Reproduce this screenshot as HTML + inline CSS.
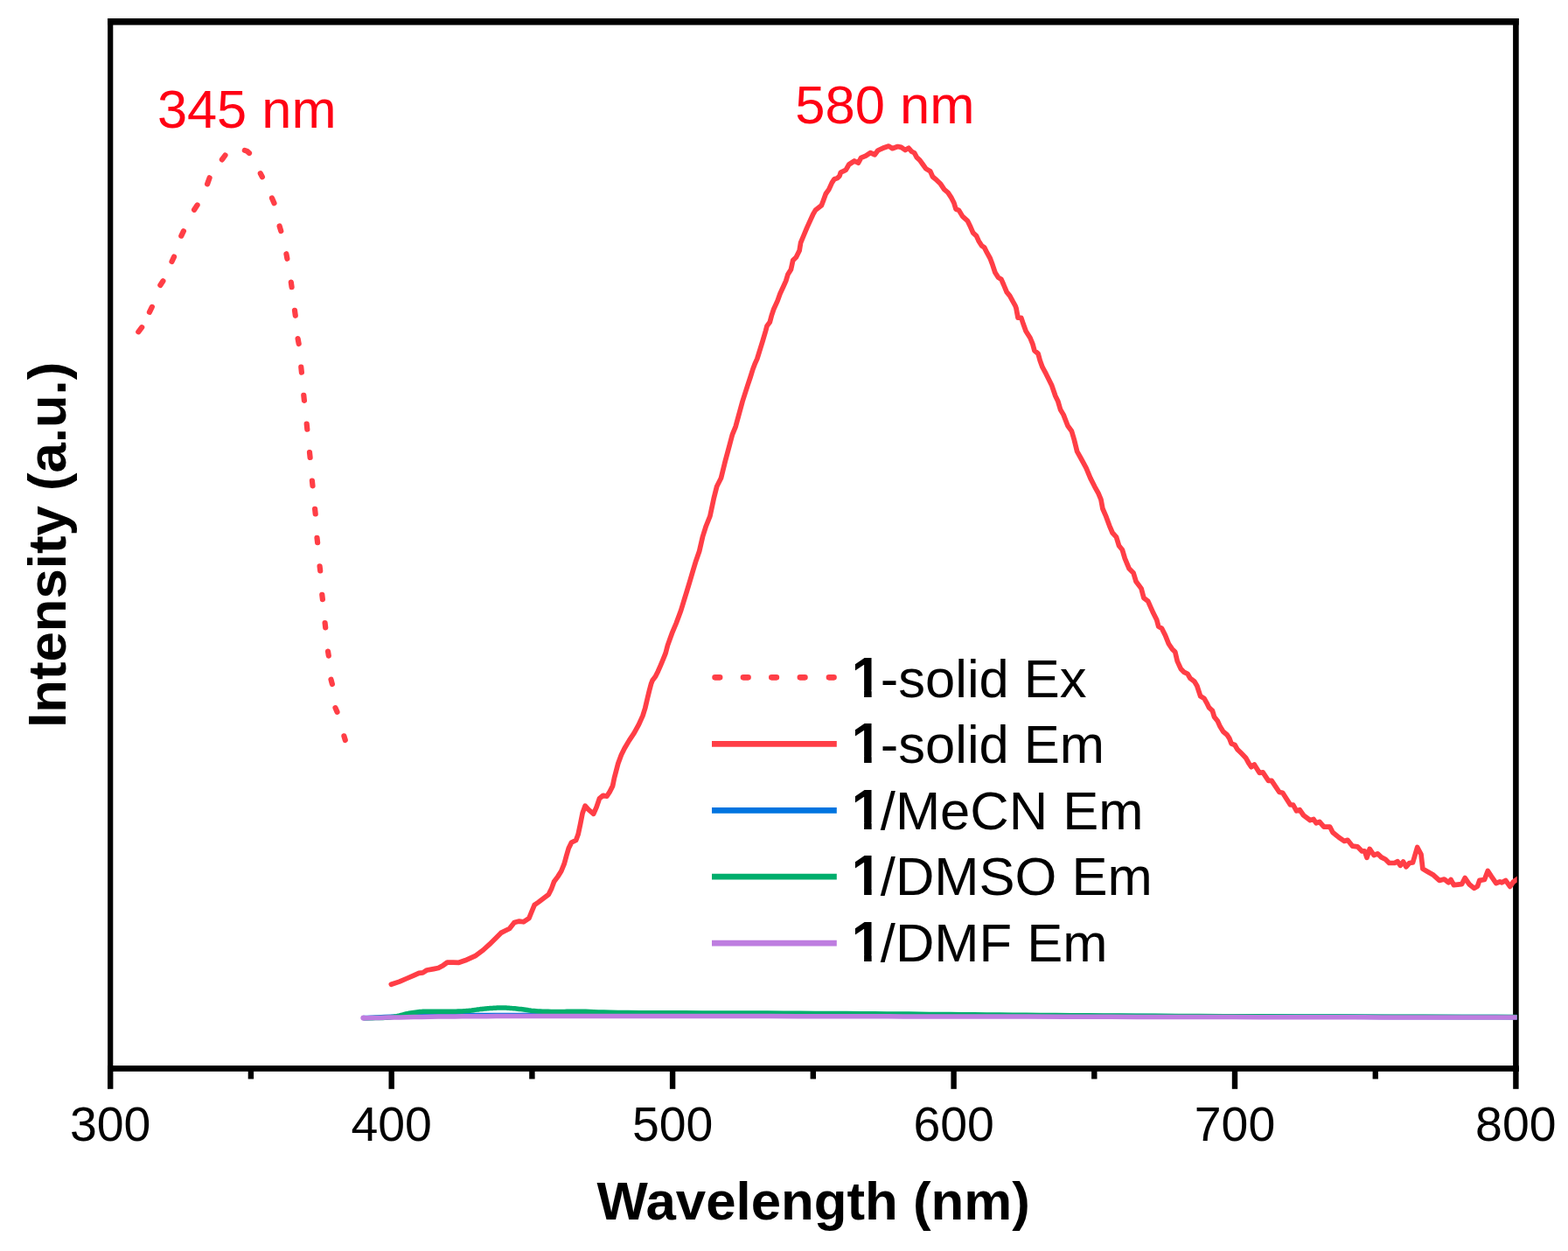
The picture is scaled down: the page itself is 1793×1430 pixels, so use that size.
<!DOCTYPE html>
<html><head><meta charset="utf-8"><title>Spectra</title>
<style>html,body{margin:0;padding:0;background:#fff;}body{width:1793px;height:1430px;overflow:hidden;}svg{display:block;}</style>
</head><body>
<svg width="1793" height="1430" viewBox="0 0 1793 1430">
<rect width="100%" height="100%" fill="#fff"/>
<g fill="#000">
<rect x="123.1" y="21.0" width="6.2" height="1203.8"/>
<rect x="1730.1" y="21.0" width="6.6" height="1203.8"/>
<rect x="123.1" y="21.0" width="1613.6" height="7.6"/>
<rect x="123.1" y="1218.0" width="1613.6" height="6.8"/>
<rect x="123.0" y="1220" width="6.4" height="24.8"/>
<rect x="283.7" y="1220" width="6.4" height="13.4"/>
<rect x="444.5" y="1220" width="6.4" height="24.8"/>
<rect x="605.2" y="1220" width="6.4" height="13.4"/>
<rect x="765.9" y="1220" width="6.4" height="24.8"/>
<rect x="926.6" y="1220" width="6.4" height="13.4"/>
<rect x="1087.4" y="1220" width="6.4" height="24.8"/>
<rect x="1248.1" y="1220" width="6.4" height="13.4"/>
<rect x="1408.8" y="1220" width="6.4" height="24.8"/>
<rect x="1569.6" y="1220" width="6.4" height="13.4"/>
<rect x="1730.2" y="1220" width="6.4" height="24.8"/>
</g>
<text x="126.2" y="1304.0" font-family="Liberation Sans, Arial, sans-serif" font-size="55.4" text-anchor="middle" fill="#000">300</text>
<text x="447.7" y="1304.0" font-family="Liberation Sans, Arial, sans-serif" font-size="55.4" text-anchor="middle" fill="#000">400</text>
<text x="769.1" y="1304.0" font-family="Liberation Sans, Arial, sans-serif" font-size="55.4" text-anchor="middle" fill="#000">500</text>
<text x="1090.6" y="1304.0" font-family="Liberation Sans, Arial, sans-serif" font-size="55.4" text-anchor="middle" fill="#000">600</text>
<text x="1412.0" y="1304.0" font-family="Liberation Sans, Arial, sans-serif" font-size="55.4" text-anchor="middle" fill="#000">700</text>
<text x="1733.3" y="1304.0" font-family="Liberation Sans, Arial, sans-serif" font-size="55.4" text-anchor="middle" fill="#000">800</text>
<text x="682.5" y="1393.8" font-family="Liberation Sans, Arial, sans-serif" font-weight="bold" font-size="61.78" fill="#000">Wavelength (nm)</text>
<text transform="translate(75.3 831.8) rotate(-90)" x="0" y="0" font-family="Liberation Sans, Arial, sans-serif" font-weight="bold" font-size="61.68" fill="#000">Intensity (a.u.)</text>
<g font-family="Liberation Sans, Arial, sans-serif" fill="#FF0014">
<text x="179.9" y="145.8" font-size="61.35">345 nm</text>
<text x="909.3" y="140.8" font-size="61.54">580 nm</text>
</g>
<defs><clipPath id="pc"><rect x="0" y="0" width="1734.7" height="1430"/></clipPath></defs>
<g fill="none" stroke-linejoin="round" clip-path="url(#pc)">
<path d="M158.3 379.3 L162.2 374.2 M170.9 356.8 L173.8 350.9 M183.3 325.9 L186.4 321.3 M196.5 299.0 L199.0 293.6 M207.3 269.6 L209.9 264.2 M222.1 239.8 L225.6 234.4 M237.1 210.4 L239.6 203.3 M253.9 182.4 L257.5 177.5 M279.8 171.9 L282.8 172.9 L285.0 175.0 M297.8 198.2 L299.9 202.2 M311.0 226.4 L313.5 232.2 M319.6 258.5 L321.3 264.1 M327.4 290.2 L328.4 295.8 M332.8 322.5 L333.6 328.2 M337.0 354.8 L337.8 360.8 M340.6 387.1 L341.7 393.0 M344.3 419.7 L344.9 425.6 M347.3 451.9 L347.9 457.8 M350.7 484.6 L351.3 490.7 M354.0 517.0 L354.6 522.9 M356.9 549.5 L357.5 555.3 M360.1 581.9 L360.7 587.5 M362.5 614.9 L363.1 620.2 M365.6 647.3 L366.2 652.4 M368.3 679.8 L368.9 685.1 M371.6 712.2 L372.2 717.3 M375.0 744.6 L375.8 749.6 M378.5 776.7 L379.9 782.0 M383.5 809.1 L385.5 813.8 M393.4 841.3 L394.8 846.0" stroke="#FF3E46" stroke-width="6.2" stroke-linecap="round"/>
<path d="M447.3 1125.2 L456.7 1122.1 L465.1 1118.5 L473.5 1114.8 L479.0 1112.3 L483.5 1111.8 L488.0 1109.0 L495.8 1107.6 L501.3 1106.5 L506.9 1103.4 L511.4 1100.1 L518.1 1100.1 L524.8 1100.3 L532.0 1097.8 L544.1 1092.3 L552.5 1086.0 L559.5 1079.7 L565.8 1073.4 L572.8 1066.4 L577.0 1064.3 L582.6 1061.5 L588.1 1054.5 L593.7 1053.1 L598.6 1053.8 L604.9 1049.7 L607.7 1042.7 L611.2 1034.3 L615.4 1031.5 L621.0 1027.3 L627.3 1022.4 L630.8 1015.4 L633.6 1007.7 L637.8 1002.1 L641.8 995.8 L645.2 987.4 L647.7 978.2 L650.2 969.8 L653.5 963.0 L658.6 960.5 L661.1 953.8 L663.6 942.1 L666.1 929.5 L669.1 921.1 L672.9 925.3 L678.7 930.3 L682.1 922.7 L685.5 912.7 L689.7 909.3 L693.9 910.2 L697.2 905.1 L700.6 898.4 L702.4 889.5 L706.8 872.7 L710.5 862.7 L714.1 855.5 L719.5 846.4 L725.0 838.2 L730.5 828.2 L735.0 818.2 L737.7 809.5 L740.2 798.8 L742.6 789.0 L744.6 781.6 L746.1 777.7 L749.5 773.3 L752.4 767.4 L755.4 760.6 L758.3 753.7 L761.2 746.4 L763.4 737.9 L768.3 724.2 L773.2 712.5 L778.6 698.0 L782.3 685.9 L785.7 674.8 L789.1 663.6 L792.4 652.4 L795.8 641.2 L799.7 630.0 L803.5 613.5 L807.4 601.2 L811.9 590.0 L816.1 570.3 L819.7 556.0 L824.5 546.5 L829.2 527.5 L834.0 509.7 L837.5 496.6 L841.2 487.6 L849.0 459.0 L854.6 441.5 L858.1 431.0 L860.9 422.0 L863.0 416.4 L865.8 410.1 L869.3 398.9 L872.1 389.8 L875.6 378.0 L877.0 372.6 L880.3 368.2 L882.5 360.1 L884.7 353.5 L889.1 343.9 L892.0 335.8 L895.7 327.8 L898.7 321.1 L900.9 313.8 L904.5 307.9 L906.7 297.6 L910.4 294.0 L914.1 286.6 L915.6 277.4 L919.1 269.0 L922.6 260.6 L926.1 252.9 L929.6 245.2 L932.4 240.3 L935.9 237.6 L939.4 234.8 L941.5 229.2 L944.3 221.5 L947.8 216.6 L951.3 208.9 L954.1 204.7 L957.6 203.6 L960.0 201.2 L961.4 197.0 L964.5 195.6 L967.3 194.2 L970.8 188.0 L977.0 184.0 L981.5 186.2 L984.6 180.4 L990.0 178.2 L995.3 174.6 L1000.3 176.9 L1003.8 172.0 L1009.6 169.3 L1016.3 167.0 L1020.3 169.7 L1026.6 167.5 L1030.6 168.4 L1035.1 171.5 L1039.1 169.3 L1042.6 173.3 L1045.5 174.7 L1048.3 179.9 L1051.8 183.1 L1055.3 188.0 L1058.8 192.9 L1063.7 195.7 L1066.5 202.0 L1071.4 206.2 L1075.6 210.3 L1079.8 216.6 L1084.0 220.1 L1088.1 226.4 L1090.9 232.0 L1093.0 239.0 L1096.5 240.4 L1100.7 247.4 L1106.3 252.3 L1109.1 257.9 L1112.7 266.1 L1116.5 269.6 L1119.0 275.2 L1122.5 280.8 L1125.6 282.9 L1128.8 289.2 L1132.3 295.5 L1135.1 303.1 L1137.9 311.5 L1141.4 317.1 L1144.9 319.2 L1147.7 325.5 L1151.2 333.9 L1154.7 338.1 L1158.1 344.4 L1160.9 349.3 L1161.9 351.9 L1164.0 363.1 L1167.8 363.4 L1170.3 370.8 L1173.1 378.5 L1178.0 386.2 L1180.8 393.1 L1182.9 400.8 L1187.1 404.3 L1189.2 412.0 L1192.0 419.7 L1196.2 427.4 L1199.7 434.4 L1202.8 440.8 L1206.8 452.5 L1209.7 458.4 L1212.6 468.2 L1216.1 474.1 L1221.0 486.8 L1225.4 492.7 L1228.3 502.5 L1231.7 516.2 L1236.1 524.0 L1242.0 534.8 L1246.9 546.6 L1251.8 556.3 L1256.0 563.9 L1258.9 570.8 L1260.9 581.5 L1264.8 590.4 L1268.7 601.1 L1272.1 609.0 L1276.5 613.9 L1279.5 623.7 L1283.4 628.6 L1286.3 638.4 L1291.2 650.1 L1296.1 655.0 L1299.1 664.8 L1305.0 672.6 L1307.9 683.4 L1312.8 687.3 L1318.8 700.8 L1322.7 708.6 L1324.7 716.0 L1328.6 718.4 L1332.5 726.2 L1336.4 736.0 L1340.4 741.9 L1343.8 745.3 L1346.2 755.6 L1350.2 764.4 L1354.1 768.4 L1358.0 770.3 L1360.9 775.2 L1365.8 779.1 L1368.8 784.0 L1372.7 795.8 L1377.0 798.4 L1379.8 803.3 L1382.6 808.9 L1386.4 812.4 L1388.5 819.4 L1392.4 824.3 L1395.2 830.6 L1398.7 836.2 L1402.9 839.7 L1405.7 843.8 L1408.1 850.1 L1412.0 851.5 L1414.8 856.4 L1419.0 860.6 L1424.5 866.2 L1428.0 872.5 L1430.8 876.7 L1434.3 873.9 L1440.3 883.5 L1444.1 882.9 L1450.4 892.3 L1454.1 892.3 L1462.9 905.5 L1466.7 906.2 L1475.5 920.0 L1478.7 920.0 L1482.5 926.9 L1486.2 925.7 L1490.6 932.0 L1498.2 937.6 L1502.0 936.4 L1505.1 940.8 L1508.9 939.5 L1513.9 945.2 L1520.8 945.2 L1524.0 951.5 L1530.9 957.1 L1537.2 961.5 L1541.0 960.3 L1546.6 967.2 L1552.3 967.8 L1557.4 972.9 L1560.5 972.9 L1563.0 980.4 L1566.2 970.4 L1571.0 977.5 L1575.3 975.8 L1579.5 979.9 L1584.2 982.2 L1588.5 986.5 L1594.7 986.5 L1598.0 984.6 L1601.3 989.3 L1604.6 985.1 L1607.9 990.8 L1611.7 986.5 L1615.5 986.0 L1620.7 968.5 L1625.0 976.5 L1626.9 993.1 L1632.6 996.5 L1639.2 1000.3 L1645.9 1006.4 L1651.5 1005.0 L1656.3 1008.8 L1659.1 1005.5 L1662.4 1011.6 L1671.5 1010.7 L1675.2 1003.6 L1680.0 1010.7 L1685.7 1015.4 L1689.5 1013.1 L1691.8 1006.4 L1697.5 1005.5 L1701.3 995.5 L1705.6 1002.1 L1710.8 1009.7 L1715.1 1007.8 L1717.4 1008.8 L1721.7 1006.4 L1726.7 1013.4 L1730.4 1008.2 L1737.5 1003.2" stroke="#FF3E46" stroke-width="5.7" stroke-linecap="round"/>
<path d="M415.5 1163.6 L419.7 1163.4 L425.4 1163.2 L432.1 1162.9 L439.6 1162.6 L447.5 1162.3 L455.4 1162.0 L463.0 1161.7 L470.0 1161.5 L475.6 1161.3 L479.8 1161.2 L483.4 1161.1 L487.2 1161.0 L491.9 1160.9 L498.5 1160.8 L507.6 1160.8 L520.0 1160.7 L535.5 1160.6 L553.0 1160.5 L572.7 1160.5 L594.4 1160.4 L618.0 1160.3 L643.5 1160.3 L670.9 1160.2 L700.0 1160.2 L731.1 1160.2 L764.2 1160.2 L799.3 1160.2 L836.2 1160.3 L874.9 1160.3 L915.2 1160.4 L956.9 1160.5 L1000.0 1160.6 L1045.7 1160.7 L1094.5 1160.9 L1145.5 1161.0 L1197.8 1161.2 L1250.3 1161.4 L1302.2 1161.6 L1352.4 1161.8 L1400.0 1161.9 L1447.4 1162.0 L1496.4 1162.2 L1545.5 1162.3 L1593.0 1162.4 L1637.4 1162.5 L1677.1 1162.6 L1710.5 1162.6 L1736.0 1162.7" stroke="#0074E0" stroke-width="5.5" stroke-linecap="butt"/>
<path d="M415.5 1163.8 L417.3 1163.8 L419.7 1163.8 L422.7 1163.7 L425.9 1163.7 L429.2 1163.6 L432.4 1163.6 L435.4 1163.5 L438.0 1163.4 L440.2 1163.3 L442.1 1163.2 L443.9 1163.0 L445.5 1162.9 L447.1 1162.7 L448.7 1162.5 L450.3 1162.3 L452.0 1162.0 L453.8 1161.7 L455.5 1161.3 L457.2 1160.8 L459.0 1160.3 L460.8 1159.9 L462.5 1159.4 L464.2 1159.0 L466.0 1158.6 L467.8 1158.3 L469.6 1158.0 L471.4 1157.7 L473.2 1157.4 L475.0 1157.2 L476.8 1157.0 L478.4 1156.8 L480.0 1156.6 L481.3 1156.5 L482.4 1156.4 L483.3 1156.3 L484.2 1156.3 L485.3 1156.2 L486.5 1156.2 L488.0 1156.2 L490.0 1156.2 L492.5 1156.2 L495.5 1156.2 L498.9 1156.2 L502.4 1156.3 L506.1 1156.3 L509.6 1156.3 L513.0 1156.3 L516.0 1156.3 L518.7 1156.2 L521.3 1156.2 L523.8 1156.1 L526.1 1156.0 L528.4 1155.9 L530.6 1155.7 L532.8 1155.6 L535.0 1155.4 L537.2 1155.2 L539.3 1155.0 L541.4 1154.7 L543.4 1154.4 L545.4 1154.1 L547.4 1153.9 L549.2 1153.6 L551.0 1153.4 L552.7 1153.2 L554.3 1153.1 L555.8 1152.9 L557.3 1152.8 L558.7 1152.7 L560.2 1152.6 L561.6 1152.5 L563.0 1152.4 L564.4 1152.3 L565.8 1152.2 L567.1 1152.2 L568.4 1152.1 L569.8 1152.0 L571.1 1152.0 L572.5 1152.0 L574.0 1152.0 L575.5 1152.0 L577.1 1152.1 L578.7 1152.1 L580.3 1152.2 L582.0 1152.3 L583.6 1152.4 L585.3 1152.6 L587.0 1152.7 L588.7 1152.8 L590.4 1153.0 L592.2 1153.2 L593.9 1153.4 L595.7 1153.6 L597.5 1153.8 L599.2 1154.0 L601.0 1154.2 L602.7 1154.4 L604.2 1154.7 L605.8 1154.9 L607.3 1155.2 L608.9 1155.4 L610.7 1155.6 L612.7 1155.8 L615.0 1156.0 L617.6 1156.1 L620.5 1156.2 L623.6 1156.3 L626.8 1156.3 L630.1 1156.4 L633.5 1156.4 L636.8 1156.4 L640.0 1156.4 L642.9 1156.4 L645.6 1156.4 L648.1 1156.3 L650.8 1156.2 L653.6 1156.2 L656.8 1156.2 L660.5 1156.2 L665.0 1156.2 L669.7 1156.3 L674.2 1156.5 L678.9 1156.7 L684.2 1156.9 L690.4 1157.1 L697.8 1157.3 L706.9 1157.5 L718.0 1157.6 L731.5 1157.7 L747.3 1157.8 L764.8 1157.8 L783.6 1157.8 L803.0 1157.9 L822.6 1157.9 L841.7 1157.9 L860.0 1158.0 L877.9 1158.1 L896.1 1158.2 L914.4 1158.3 L932.6 1158.4 L950.5 1158.5 L967.9 1158.6 L984.4 1158.7 L1000.0 1158.8 L1014.2 1158.9 L1027.2 1159.0 L1039.3 1159.1 L1050.9 1159.2 L1062.4 1159.4 L1074.2 1159.5 L1086.6 1159.6 L1100.0 1159.7 L1114.1 1159.8 L1128.3 1159.9 L1142.8 1160.1 L1157.8 1160.2 L1173.4 1160.3 L1189.6 1160.4 L1206.8 1160.6 L1225.0 1160.7 L1243.4 1160.8 L1261.5 1161.0 L1279.9 1161.1 L1299.3 1161.2 L1320.4 1161.3 L1343.8 1161.5 L1370.1 1161.6 L1400.0 1161.7 L1436.6 1161.8 L1480.6 1161.9 L1529.0 1162.0 L1578.9 1162.2 L1627.5 1162.3 L1671.9 1162.4 L1709.0 1162.4 L1736.0 1162.5" stroke="#00AE6C" stroke-width="5.5" stroke-linecap="butt"/>
<path d="M415.5 1163.8 L417.9 1163.7 L420.9 1163.7 L424.4 1163.6 L428.4 1163.5 L432.9 1163.4 L438.1 1163.2 L443.8 1163.1 L450.0 1163.0 L457.0 1162.9 L464.8 1162.7 L473.2 1162.6 L482.2 1162.4 L491.5 1162.3 L501.0 1162.1 L510.5 1162.0 L520.0 1161.9 L528.4 1161.8 L535.3 1161.8 L541.8 1161.7 L548.8 1161.7 L557.1 1161.7 L567.8 1161.6 L581.8 1161.6 L600.0 1161.6 L623.1 1161.6 L650.5 1161.6 L681.3 1161.6 L714.4 1161.6 L748.8 1161.6 L783.5 1161.6 L817.6 1161.6 L850.0 1161.6 L880.8 1161.6 L911.1 1161.7 L941.1 1161.7 L971.2 1161.8 L1001.9 1161.8 L1033.3 1161.9 L1065.9 1161.9 L1100.0 1162.0 L1136.7 1162.1 L1176.1 1162.1 L1217.1 1162.2 L1258.8 1162.3 L1299.9 1162.4 L1339.5 1162.5 L1376.6 1162.5 L1410.0 1162.6 L1439.9 1162.7 L1467.2 1162.7 L1492.4 1162.7 L1515.9 1162.8 L1538.0 1162.8 L1559.1 1162.8 L1579.7 1162.9 L1600.0 1162.9 L1620.5 1162.9 L1641.0 1163.0 L1660.9 1163.0 L1679.9 1163.0 L1697.3 1163.0 L1712.8 1163.1 L1725.9 1163.1 L1736.0 1163.1" stroke="#BE7DE0" stroke-width="5.5" stroke-linecap="butt"/>
</g>
<circle cx="415.5" cy="1163.6" r="3.15" fill="#BE7DE0"/>
<g fill="none" stroke-width="6.8">
<path d="M817.55 774.35 H823.15 M849.95 774.35 H855.55 M882.30 774.35 H887.90 M914.85 774.35 H920.45 M947.95 774.35 H953.55" stroke="#FF3E46" stroke-width="6.6" stroke-linecap="round"/>
<path d="M814.0 850.45 H956.8" stroke="#FF3E46"/>
<path d="M814.0 926.30 H956.8" stroke="#0074E0"/>
<path d="M814.0 1002.10 H956.8" stroke="#00AE6C"/>
<path d="M814.0 1078.10 H956.8" stroke="#BE7DE0"/>
</g>
<defs>
<clipPath id="c1_0"><polygon points="965.80,726.50 1013.80,726.50 1013.80,788.74 996.64,788.74 996.64,802.50 988.10,802.50 988.10,788.74 965.80,788.74"/></clipPath>
<clipPath id="c1_1"><polygon points="965.80,802.15 1013.80,802.15 1013.80,864.39 996.64,864.39 996.64,878.15 988.10,878.15 988.10,864.39 965.80,864.39"/></clipPath>
<clipPath id="c1_2"><polygon points="965.80,877.80 1013.80,877.80 1013.80,940.04 996.64,940.04 996.64,953.80 988.10,953.80 988.10,940.04 965.80,940.04"/></clipPath>
<clipPath id="c1_3"><polygon points="965.80,953.45 1013.80,953.45 1013.80,1015.69 996.64,1015.69 996.64,1029.45 988.10,1029.45 988.10,1015.69 965.80,1015.69"/></clipPath>
<clipPath id="c1_4"><polygon points="965.80,1029.10 1013.80,1029.10 1013.80,1091.34 996.64,1091.34 996.64,1105.10 988.10,1105.10 988.10,1091.34 965.80,1091.34"/></clipPath>
</defs>
<g font-family="Liberation Sans, Arial, sans-serif" font-size="61.5" fill="#000">
<g clip-path="url(#c1_0)"><text transform="translate(973.80 796.50) scale(1 1.045)" font-weight="bold">1</text></g>
<text x="1006.80" y="796.50">-solid Ex</text>
<g clip-path="url(#c1_1)"><text transform="translate(973.80 872.15) scale(1 1.045)" font-weight="bold">1</text></g>
<text x="1006.80" y="872.15">-solid Em</text>
<g clip-path="url(#c1_2)"><text transform="translate(973.80 947.80) scale(1 1.045)" font-weight="bold">1</text></g>
<text x="1006.80" y="947.80">/MeCN Em</text>
<g clip-path="url(#c1_3)"><text transform="translate(973.80 1023.45) scale(1 1.045)" font-weight="bold">1</text></g>
<text x="1006.80" y="1023.45">/DMSO Em</text>
<g clip-path="url(#c1_4)"><text transform="translate(973.80 1099.10) scale(1 1.045)" font-weight="bold">1</text></g>
<text x="1006.80" y="1099.10">/DMF Em</text>
</g>
</svg>
</body></html>
